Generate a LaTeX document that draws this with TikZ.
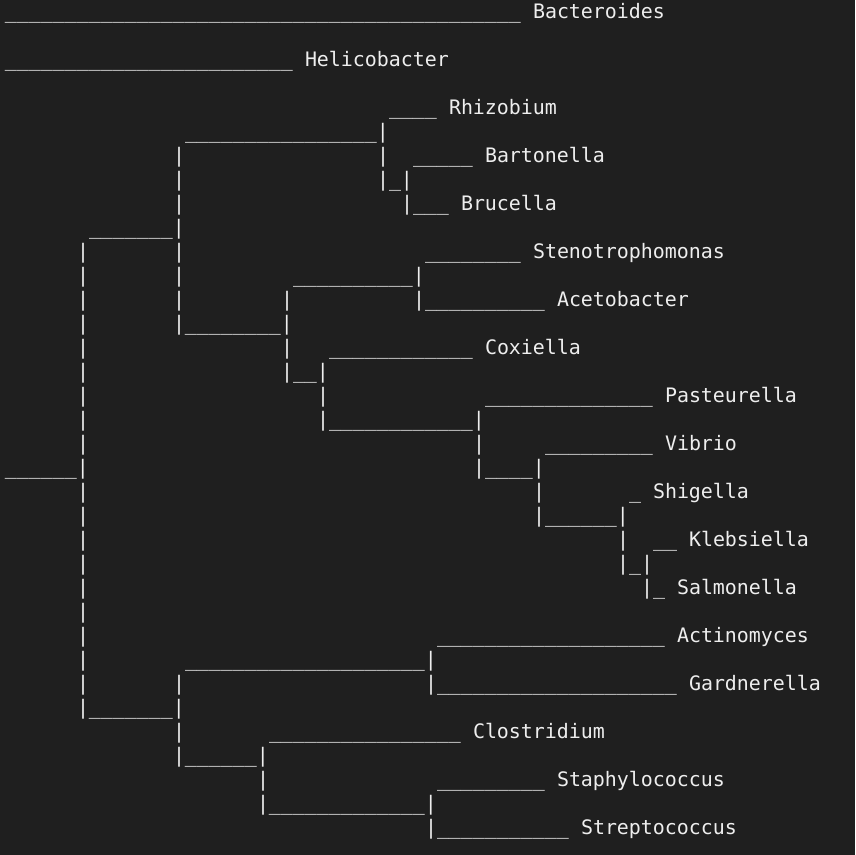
\documentclass[tikz,border=0pt]{standalone}
\usepackage{fontspec}
\newfontfamily\monofam{DejaVu Sans Mono}
\ExplSyntaxOn
\cs_new:Npn \uu #1 { \prg_replicate:nn {#1} {\textunderscore} }
\ExplSyntaxOff
\definecolor{bg}{HTML}{1F1F1F}
\definecolor{fg}{HTML}{EEEEEE}
\tikzset{
  txt/.style={anchor=base west, inner sep=0pt, outer sep=0pt, text=fg,
    font=\monofam\fontsize{19.93}{24}\selectfont}
}
\newcommand\seg[4]{\node[txt] (#1) at ({5pt+12pt*#2}, {-18pt-24pt*#3}) {#4};}
\begin{document}
\begin{tikzpicture}[x=1pt,y=1pt]
\fill[bg] (0,0) rectangle (855,-855);
\useasboundingbox (0,0) rectangle (855,-855);
% row 0
\seg{r0a}{0}{0}{\uu{43}}
\seg{bacteroides}{44}{0}{Bacteroides}
% row 2
\seg{r2a}{0}{2}{\uu{24}}
\seg{helicobacter}{25}{2}{Helicobacter}
% row 4
\seg{r4a}{32}{4}{\uu{4}}
\seg{rhizobium}{37}{4}{Rhizobium}
% row 5
\seg{r5a}{15}{5}{\uu{16}|}
% row 6
\seg{r6a}{14}{6}{|}
\seg{r6b}{31}{6}{|}
\seg{r6c}{34}{6}{\uu{5}}
\seg{bartonella}{40}{6}{Bartonella}
% row 7
\seg{r7a}{14}{7}{|}
\seg{r7b}{31}{7}{|\uu{1}|}
% row 8
\seg{r8a}{14}{8}{|}
\seg{r8b}{33}{8}{|\uu{3}}
\seg{brucella}{38}{8}{Brucella}
% row 9
\seg{r9a}{7}{9}{\uu{7}|}
% row 10
\seg{r10a}{6}{10}{|}
\seg{r10b}{14}{10}{|}
\seg{r10c}{35}{10}{\uu{8}}
\seg{stenotrophomonas}{44}{10}{Stenotrophomonas}
% row 11
\seg{r11a}{6}{11}{|}
\seg{r11b}{14}{11}{|}
\seg{r11c}{24}{11}{\uu{10}|}
% row 12
\seg{r12a}{6}{12}{|}
\seg{r12b}{14}{12}{|}
\seg{r12c}{23}{12}{|}
\seg{r12d}{34}{12}{|\uu{10}}
\seg{acetobacter}{46}{12}{Acetobacter}
% row 13
\seg{r13a}{6}{13}{|}
\seg{r13b}{14}{13}{|\uu{8}|}
% row 14
\seg{r14a}{6}{14}{|}
\seg{r14b}{23}{14}{|}
\seg{r14c}{27}{14}{\uu{12}}
\seg{coxiella}{40}{14}{Coxiella}
% row 15
\seg{r15a}{6}{15}{|}
\seg{r15b}{23}{15}{|\uu{2}|}
% row 16
\seg{r16a}{6}{16}{|}
\seg{r16b}{26}{16}{|}
\seg{r16c}{40}{16}{\uu{14}}
\seg{pasteurella}{55}{16}{Pasteurella}
% row 17
\seg{r17a}{6}{17}{|}
\seg{r17b}{26}{17}{|\uu{12}|}
% row 18
\seg{r18a}{6}{18}{|}
\seg{r18b}{39}{18}{|}
\seg{r18c}{45}{18}{\uu{9}}
\seg{vibrio}{55}{18}{Vibrio}
% row 19
\seg{r19a}{0}{19}{\uu{6}|}
\seg{r19b}{39}{19}{|\uu{4}|}
% row 20
\seg{r20a}{6}{20}{|}
\seg{r20b}{44}{20}{|}
\seg{r20c}{52}{20}{\uu{1}}
\seg{shigella}{54}{20}{Shigella}
% row 21
\seg{r21a}{6}{21}{|}
\seg{r21b}{44}{21}{|\uu{6}|}
% row 22
\seg{r22a}{6}{22}{|}
\seg{r22b}{51}{22}{|}
\seg{r22c}{54}{22}{\uu{2}}
\seg{klebsiella}{57}{22}{Klebsiella}
% row 23
\seg{r23a}{6}{23}{|}
\seg{r23b}{51}{23}{|\uu{1}|}
% row 24
\seg{r24a}{6}{24}{|}
\seg{r24b}{53}{24}{|\uu{1}}
\seg{salmonella}{56}{24}{Salmonella}
% row 25
\seg{r25a}{6}{25}{|}
% row 26
\seg{r26a}{6}{26}{|}
\seg{r26b}{36}{26}{\uu{19}}
\seg{actinomyces}{56}{26}{Actinomyces}
% row 27
\seg{r27a}{6}{27}{|}
\seg{r27b}{15}{27}{\uu{20}|}
% row 28
\seg{r28a}{6}{28}{|}
\seg{r28b}{14}{28}{|}
\seg{r28c}{35}{28}{|\uu{20}}
\seg{gardnerella}{57}{28}{Gardnerella}
% row 29
\seg{r29a}{6}{29}{|\uu{7}|}
% row 30
\seg{r30a}{14}{30}{|}
\seg{r30b}{22}{30}{\uu{16}}
\seg{clostridium}{39}{30}{Clostridium}
% row 31
\seg{r31a}{14}{31}{|\uu{6}|}
% row 32
\seg{r32a}{21}{32}{|}
\seg{r32b}{36}{32}{\uu{9}}
\seg{staphylococcus}{46}{32}{Staphylococcus}
% row 33
\seg{r33a}{21}{33}{|\uu{13}|}
% row 34
\seg{r34a}{35}{34}{|\uu{11}}
\seg{streptococcus}{48}{34}{Streptococcus}
\end{tikzpicture}
\end{document}
